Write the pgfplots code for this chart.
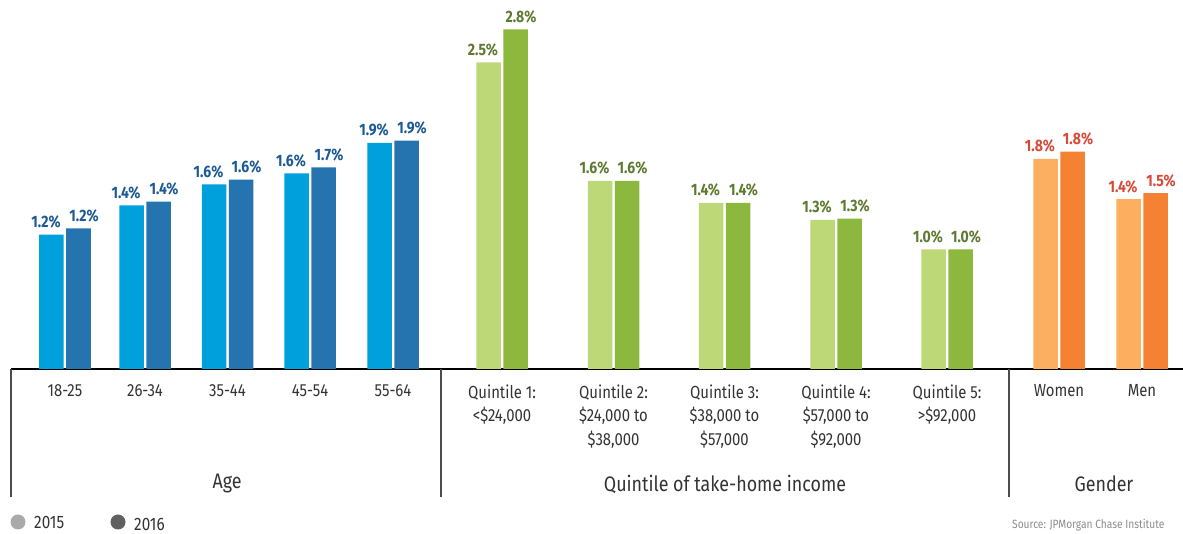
\documentclass[border=0pt]{standalone}
\usepackage{pgfplots}
\pgfplotsset{compat=1.18}
\usepackage{fontspec}
\setmainfont{Fira Sans}[FakeStretch=0.85]
\definecolor{ageA}{HTML}{00A0DC}
\definecolor{ageB}{HTML}{2574B0}
\definecolor{ageL}{HTML}{1D5A94}
\definecolor{incA}{HTML}{BDD977}
\definecolor{incB}{HTML}{8DB83E}
\definecolor{incL}{HTML}{5E7A30}
\definecolor{genA}{HTML}{FBAF5F}
\definecolor{genB}{HTML}{F58233}
\definecolor{genL}{HTML}{D64A38}
\definecolor{txt}{HTML}{333333}
\definecolor{legA}{HTML}{AAAAAA}
\definecolor{legB}{HTML}{606060}
\begin{document}
\begin{tikzpicture}[x=1pt,y=1pt]
\path[use as bounding box] (-11,-165) rectangle (1172,369);
\begin{axis}[
  at={(0,0)}, anchor=south west, scale only axis,
  width=1172pt, height=369pt,
  xmin=11, xmax=1183, ymin=0, ymax=3.02,
  axis x line*=bottom, axis y line=none,
  x axis line style={-, line width=1.3pt, black},
  ytick=\empty,
  xtick={65,145,227.5,310,393,502,613.5,724.5,836,947,1059,1142},
  xticklabels={18-25,26-34,35-44,45-54,55-64,
    {Quintile 1:\\<\$24,000},{Quintile 2:\\\$24,000 to\\\$38,000},
    {Quintile 3:\\\$38,000 to\\\$57,000},{Quintile 4:\\\$57,000 to\\\$92,000},
    {Quintile 5:\\>\$92,000},Women,Men},
  xtick style={draw=none},
  xticklabel style={align=center, anchor=north, yshift=-12pt,
    font=\fontsize{17.5}{23.5}\selectfont, text=txt},
  clip=false,
  point meta=explicit symbolic,
]
\pgfplotsset{
  lblA/.style={nodes near coords, nodes near coords style={font=\bfseries\fontsize{16.5}{16.5}\selectfont, anchor=base, inner sep=0pt, yshift=7pt, xshift=-5.5pt, text=#1}},
  lblB/.style={nodes near coords, nodes near coords style={font=\bfseries\fontsize{16.5}{16.5}\selectfont, anchor=base, inner sep=0pt, yshift=7pt, xshift=5.5pt, text=#1}},
  barst/.style={ybar, bar width=24.5, bar shift=0pt, draw=none, fill=#1},
}
% Age
\addplot[barst=ageA, lblA=ageL] coordinates {(51.5,1.10)[1.2\%] (131.5,1.34)[1.4\%] (214,1.51)[1.6\%] (296.5,1.60)[1.6\%] (379.5,1.85)[1.9\%]};
\addplot[barst=ageB, lblB=ageL] coordinates {(78.5,1.15)[1.2\%] (158.5,1.37)[1.4\%] (241,1.55)[1.6\%] (323.5,1.65)[1.7\%] (406.5,1.87)[1.9\%]};
% Income
\addplot[barst=incA, lblA=incL] coordinates {(488.5,2.51)[2.5\%] (600,1.54)[1.6\%] (711,1.36)[1.4\%] (822.5,1.22)[1.3\%] (933.5,0.98)[1.0\%]};
\addplot[barst=incB, lblB=incL] coordinates {(515.5,2.78)[2.8\%] (627,1.54)[1.6\%] (738,1.36)[1.4\%] (849.5,1.23)[1.3\%] (960.5,0.98)[1.0\%]};
% Gender
\addplot[barst=genA, lblA=genL] coordinates {(1045.5,1.72)[1.8\%] (1128.5,1.39)[1.4\%]};
\addplot[barst=genB, lblB=genL] coordinates {(1072.5,1.78)[1.8\%] (1155.5,1.44)[1.5\%]};
\end{axis}
% separators
\draw[line width=1.2pt, black!70] (0,0) -- (0,-128);
\draw[line width=1.2pt, black!70] (430,0) -- (430,-128);
\draw[line width=1.2pt, black!70] (998,0) -- (998,-128);
% group labels
\node[font=\fontsize{21}{21}\selectfont, text=txt] at (216,-115) {Age};
\node[font=\fontsize{21}{21}\selectfont, text=txt] at (714,-115) {Quintile of take-home income};
\node[font=\fontsize{21}{21}\selectfont, text=txt] at (1093,-115) {Gender};
% legend
\fill[legA] (7,-153) circle (7.5pt);
\node[anchor=west, inner sep=0pt, font=\fontsize{18}{18}\selectfont, text=txt] at (23,-154) {2015};
\fill[legB] (107,-153) circle (7.5pt);
\node[anchor=west, inner sep=0pt, font=\fontsize{18}{18}\selectfont, text=txt] at (123,-155) {2016};
\node[anchor=north west, inner sep=0pt, font=\fontsize{12}{12}\selectfont, text=black!45] at (1001,-150) {Source: JPMorgan Chase Institute};
\end{tikzpicture}
\end{document}
